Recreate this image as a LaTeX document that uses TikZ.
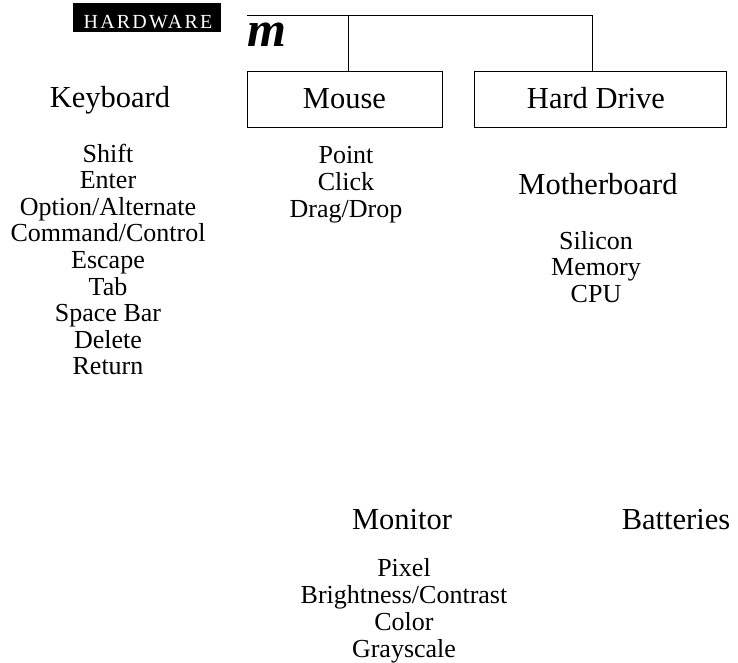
\documentclass[tikz,border=0pt]{standalone}
\usepackage{fontspec}
\setmainfont{Liberation Serif}
\newfontfamily\spacedfont[LetterSpace=11]{Liberation Serif}

\begin{document}
\begin{tikzpicture}[x=1pt, y=-1pt,
    head/.style={font=\fontsize{30.5}{33}\selectfont, anchor=base, inner sep=0pt},
    item/.style={font=\fontsize{26}{27}\selectfont, anchor=base, inner sep=0pt},
    devbox/.style={draw, line width=0.8pt, minimum height=56pt, inner sep=0pt},
    link/.style={line width=0.8pt}]

  \useasboundingbox (0,0) rectangle (738,662);

  % ────────────────────────────────────────────────────────────────────
  % Title tab and logo
  % ────────────────────────────────────────────────────────────────────
  \node[fill=black, minimum width=148pt, minimum height=29pt, inner sep=0pt]
    (tab) at (147,17.5) {};
  \node[anchor=base, text=white, font=\spacedfont\fontsize{20}{21}\selectfont, inner sep=0pt]
    (title) at (148,28) {HARDWARE};
  \node[anchor=base west, font=\fontsize{50}{50}\selectfont\bfseries\itshape, inner sep=0pt]
    (logo) at (247,46) {m};

  % ────────────────────────────────────────────────────────────────────
  % Boxed devices and the bracket above them
  % ────────────────────────────────────────────────────────────────────
  \node[devbox, minimum width=195pt] (mouse)  at (344.5,99) {};
  \node[head] (mouselbl) at (mouse.center |- 0,108) {Mouse};

  \node[devbox, minimum width=252pt] (hdrive) at (600,99) {};
  \node[head] (hdrivelbl) at (596,108) {Hard Drive};

  \coordinate (bar) at (247,15);
  \draw[link] (bar) -| ([xshift=-8pt]hdrive.north);
  \draw[link] ([xshift=3.5pt]mouse.north) -- ([xshift=3.5pt]mouse.north |- bar);

  % ────────────────────────────────────────────────────────────────────
  % Keyboard
  % ────────────────────────────────────────────────────────────────────
  \node[head] (keyboard) at (110,107) {Keyboard};
  \foreach \name [count=\i] in {Shift, Enter, Option/Alternate,
      Command/Control, Escape, Tab, Space Bar, Delete, Return}
    \node[item] (kb\i) at (108,{162+26.6*(\i-1)}) {\name};

  % ── Mouse actions ──
  \foreach \name [count=\i] in {Point, Click, Drag/Drop}
    \node[item] (ms\i) at (346,{163+27*(\i-1)}) {\name};

  % ────────────────────────────────────────────────────────────────────
  % Motherboard
  % ────────────────────────────────────────────────────────────────────
  \node[head] (board) at (598,194) {Motherboard};
  \foreach \name [count=\i] in {Silicon, Memory, CPU}
    \node[item] (mb\i) at (596,{249+26.5*(\i-1)}) {\name};

  % ────────────────────────────────────────────────────────────────────
  % Monitor and batteries
  % ────────────────────────────────────────────────────────────────────
  \node[head] (monitor) at (402,529) {Monitor};
  \node[head] (batt) at (676,529) {Batteries};
  \foreach \name [count=\i] in {Pixel, Brightness/Contrast, Color, Grayscale}
    \node[item] (mn\i) at (404,{576+27*(\i-1)}) {\name};

\end{tikzpicture}
\end{document}
